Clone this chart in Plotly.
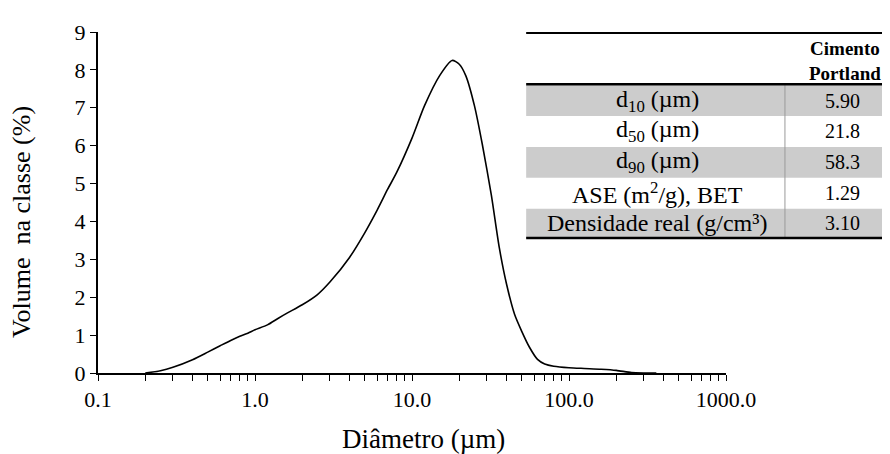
import plotly.graph_objects as go

# ---------------- data ----------------
diameter_um = [0.2, 0.25, 0.3, 0.4, 0.5, 0.6, 0.7, 0.8, 0.9, 1.0, 1.2, 1.4, 1.6, 2.0, 2.5,
               3.0, 4.0, 5.0, 6.0, 7.0, 8.0, 10, 12, 15, 18, 20, 22, 25, 28, 32, 36, 40,
               45, 50, 56, 63, 70, 80, 100, 125, 160, 200, 250, 300, 360]
volume_pct = [0, 0.06, 0.15, 0.35, 0.55, 0.72, 0.86, 0.97, 1.05, 1.14, 1.27, 1.44, 1.58, 1.8, 2.07,
              2.4, 3.05, 3.7, 4.3, 4.85, 5.3, 6.2, 7.05, 7.85, 8.25, 8.15, 7.85, 7.05, 6.05, 4.7, 3.3, 2.35,
              1.55, 1.1, 0.68, 0.36, 0.24, 0.18, 0.14, 0.12, 0.1, 0.07, 0.01, 0, 0]

x_major_ticks = [0.1, 1, 10, 100, 1000]
x_major_labels = ["0.1", "1.0", "10.0", "100.0", "1000.0"]
y_ticks = [0, 1, 2, 3, 4, 5, 6, 7, 8, 9]

table_header = "<b>Cimento<br>Portland</b>"
table_labels = ["d<sub>10</sub> (µm)", "d<sub>50</sub> (µm)", "d<sub>90</sub> (µm)",
                "ASE (m<sup>2</sup>/g), BET", "Densidade real (g/cm³)"]
table_values = ["5.90", "21.8", "58.3", "1.29", "3.10"]

# ---------------- layout geometry ----------------
# the page body has an 8px margin; all reference pixel positions are shifted by it
OFF = 8
WIN_W, WIN_H = 890, 454
W, H = WIN_W - OFF, WIN_H - OFF
L, R, T, B = 97.5 - OFF, 726 - OFF, 24 - OFF, 373.3 - OFF

def fx(p):
    return (p - OFF - L) / (R - L)

def fy(p):
    return (B - (p - OFF)) / (B - T)

FONT = "Liberation Serif"

fig = go.Figure()
fig.add_trace(go.Scatter(
    x=diameter_um, y=volume_pct, mode="lines",
    line=dict(color="black", width=1.6, shape="spline", smoothing=0.7),
    showlegend=False, hoverinfo="skip", cliponaxis=False,
))

shapes = []
annotations = []

# table
tx0, tx1 = 526, 890
divider = 785
top_rule = 25
head_bottom = 77.5
row_edges = [78.5, 110, 141.7, 173.3, 205, 235]
gray = "#cccccc"
for i in range(5):
    y0, y1 = row_edges[i], row_edges[i + 1]
    if i % 2 == 0:
        shapes.append(dict(type="rect", xref="paper", yref="paper",
                           x0=fx(tx0), x1=fx(tx1), y0=fy(y1), y1=fy(y0),
                           fillcolor=gray, line=dict(width=0), layer="below"))
    annotations.append(dict(xref="paper", yref="paper", x=fx(657), y=fy((y0 + y1) / 2),
                            text=table_labels[i], showarrow=False,
                            font=dict(family=FONT, size=24, color="black"),
                            xanchor="center", yanchor="middle"))
    annotations.append(dict(xref="paper", yref="paper", x=fx(843), y=fy((y0 + y1) / 2),
                            text=table_values[i], showarrow=False,
                            font=dict(family=FONT, size=20, color="black"),
                            xanchor="center", yanchor="middle"))
shapes.append(dict(type="line", xref="paper", yref="paper", x0=fx(divider), x1=fx(divider),
                   y0=fy(row_edges[0]), y1=fy(row_edges[-1]), line=dict(color="#999999", width=1)))
for yy, wdt in [(top_rule, 2), (head_bottom, 2.4), (row_edges[-1], 2.4)]:
    shapes.append(dict(type="line", xref="paper", yref="paper", x0=fx(tx0), x1=fx(tx1),
                       y0=fy(yy), y1=fy(yy), line=dict(color="black", width=wdt)))
annotations.append(dict(xref="paper", yref="paper", x=fx(845), y=fy(54),
                        text=table_header, showarrow=False,
                        font=dict(family=FONT, size=19, color="black"),
                        xanchor="center", yanchor="middle"))

# axis titles
annotations.append(dict(xref="paper", yref="paper", x=fx(423), y=fy(441),
                        text="Diâmetro (µm)", showarrow=False,
                        font=dict(family=FONT, size=27, color="black"),
                        xanchor="center", yanchor="middle"))
annotations.append(dict(xref="paper", yref="paper", x=fx(21), y=fy(219),
                        text="Volume  na classe (%)", showarrow=False, textangle=-90,
                        font=dict(family=FONT, size=26, color="black"),
                        xanchor="center", yanchor="middle"))

fig.update_layout(
    width=W, height=H,
    margin=dict(l=L, r=W - R, t=T, b=H - B, pad=0),
    paper_bgcolor="white", plot_bgcolor="white",
    font=dict(family=FONT, color="black"),
    shapes=shapes, annotations=annotations,
    xaxis=dict(type="log", range=[-1, 3], tickvals=x_major_ticks, ticktext=x_major_labels,
               ticks="outside", ticklen=6, tickwidth=1.2, tickcolor="black",
               minor=dict(ticks="outside", ticklen=6, tickwidth=1.2, tickcolor="black",
                          dtick="D1", showgrid=False),
               showline=True, linecolor="black", linewidth=2, showgrid=False, zeroline=False,
               tickfont=dict(family=FONT, size=22, color="black")),
    yaxis=dict(range=[0, 9], tickvals=y_ticks, ticks="outside", ticklen=6, tickwidth=1.2,
               tickcolor="black", showline=True, linecolor="black", linewidth=2,
               showgrid=False, zeroline=False,
               tickfont=dict(family=FONT, size=22, color="black")),
)

fig.write_html("out.html")
